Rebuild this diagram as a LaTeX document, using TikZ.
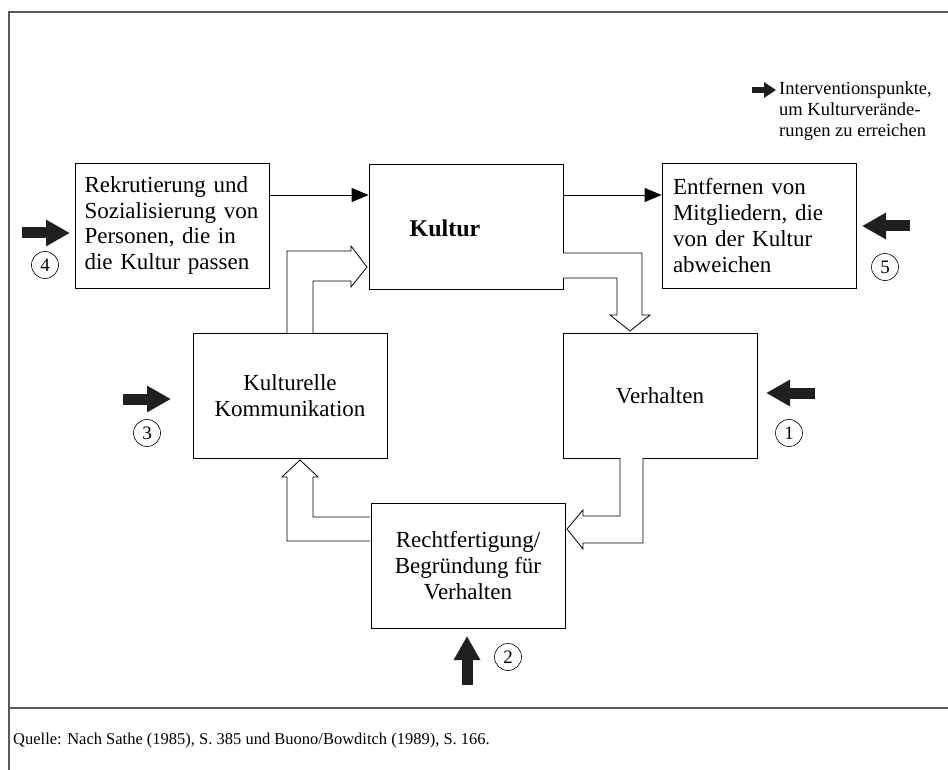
\documentclass[tikz,border=0pt]{standalone}
\usepackage{fontspec}
\setmainfont{Liberation Serif}
\usetikzlibrary{arrows.meta}

\tikzset{
  box/.style={draw, line width=0.8pt, minimum width=194pt, minimum height=125pt, inner sep=0pt, align=center, font=\fontsize{23}{25.7}\selectfont},
  flow/.style={line width=0.8pt, -{Triangle[length=17pt,width=14pt]}},
  hollow/.style={draw, line width=0.8pt, fill=white, line join=miter},
  push/.style={line width=11pt, draw=black!88, -{Triangle[length=24pt,width=25pt]}},
  num/.style={circle, draw, line width=0.6pt, minimum size=27pt, inner sep=0pt, font=\fontsize{19}{19}\selectfont},
}

\begin{document}
\begin{tikzpicture}[x=1pt, y=-1pt]
            \useasboundingbox (0,0) rectangle (948,770);
            \draw[line width=1.2pt, black!65] (948,12) -- (9,12) -- (9,770);
            \draw[line width=1.2pt, black!65] (9,708) -- (948,708);

            \node[box, text width=176pt, align=left] (rekrut) at (172.5,225.5) {Rekrutierung und\\Sozialisierung von\\Personen, die in\\die Kultur passen};
            \node[box] (kultur) at (466,226.5) {};
            \node[font=\fontsize{24}{25.7}\selectfont\bfseries] (kulturtext) at (445,228) {Kultur};
            \node[box, text width=172pt, align=left] (entfern) at (759,225.5) {Entfernen von\\Mitgliedern, die\\von der Kultur\\abweichen};
            \node[box] (kommu) at (290,395.5) {Kulturelle\\Kommunikation};
            \node[box] (verh) at (660,395.5) {Verhalten};
            \node[box] (recht) at (468,565.5) {Rechtfertigung/\\Begründung für\\Verhalten};

            \draw[flow] ([yshift=30.5pt]rekrut.east) -- ([yshift=30.5pt]rekrut.east -| kultur.west);
            \draw[flow] ([yshift=31.5pt]kultur.east) -- ([yshift=31.5pt]kultur.east -| entfern.west);

            \draw[hollow] (287,333) -- (287,251) -- (351,251) -- (351,246) -- (367,267)
                -- (351,287) -- (351,281) -- (313,281) -- (313,333);
            \draw[hollow] (563,253) -- (642,253) -- (642,315) -- (650,315) -- (630,331)
                -- (610,315) -- (617,315) -- (617,278) -- (563,278);
            \draw[hollow] (643,458) -- (643,543) -- (583,543) -- (583,549) -- (567,529)
                -- (583,510) -- (583,516) -- (620,516) -- (620,458);
            \draw[hollow] (370,541) -- (287,541) -- (287,477) -- (282,477) -- (300,460)
                -- (318,477) -- (313,477) -- (313,517) -- (370,517);

            \coordinate (p4) at (22,233);
            \draw[push] (p4) -- ++(48,0);
            \node[num] (n4) at (45,265) {4};
            \coordinate (p5) at (910,226);
            \draw[push] (p5) -- ++(-48,0);
            \node[num] (n5) at (885,267) {5};
            \coordinate (p3) at (123,399);
            \draw[push] (p3) -- ++(48,0);
            \node[num] (n3) at (147,433) {3};
            \coordinate (p1) at (815,393);
            \draw[push] (p1) -- ++(-49,0);
            \node[num] (n1) at (789,433) {1};
            \coordinate (p2) at (467,685);
            \draw[push] (p2) -- ++(0,-49);
            \node[num] (n2) at (508,657) {2};

            \coordinate (legarrow) at (752,90);
            \draw[line width=6pt, draw=black!88, -{Triangle[length=12pt,width=15pt]}] (legarrow) -- ++(24,0);
            \node[anchor=west, align=left, inner sep=0pt, font=\fontsize{18.5}{21}\selectfont] (legend) at (779,111) {Interventionspunkte,\\um Kulturverände-\\rungen zu erreichen};

            \node[anchor=west, inner sep=0pt, font=\fontsize{16.5}{18}\selectfont] (source) at (13,741) {Quelle: Nach Sathe (1985), S. 385 und Buono/Bowditch (1989), S. 166.};
        \end{tikzpicture}
\end{document}
